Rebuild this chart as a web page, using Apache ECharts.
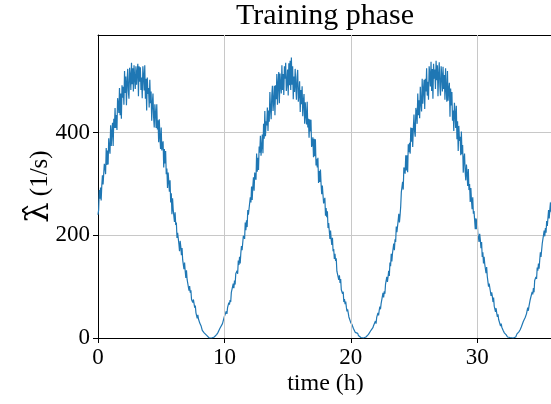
<!DOCTYPE html>
<html>
<head>
<meta charset="utf-8">
<script src="https://cdn.jsdelivr.net/npm/echarts@6/dist/echarts.min.js"></script>
<style>
html,body{margin:0;padding:0;background:#fff;}
#chart{width:551px;height:404px;}
</style>
</head>
<body>
<div id="chart"></div>
<script>
// Sampling step of the time axis (hours)
const timeStepH = 0.05;

// Estimated rate (1/s), one array per 12 h cycle
const rateCycle1 = [
  240, 249, 288, 271, 293, 268, 297, 317, 299, 297,
  339, 333, 319, 370, 337, 365, 338, 389, 368, 359,
  414, 374, 401, 419, 374, 427, 409, 448, 409, 434,
  405, 467, 456, 438, 487, 434, 476, 427, 492, 468,
  489, 454, 520, 477, 509, 453, 497, 524, 481, 466,
  526, 511, 483, 536, 494, 525, 480, 531, 506, 485,
  529, 493, 518, 534, 471, 529, 499, 527, 483, 507,
  467, 529, 511, 482, 531, 466, 505, 443, 507, 475,
  487, 449, 503, 457, 480, 423, 457, 476, 430, 410,
  455, 438, 409, 455, 406, 424, 381, 426, 391, 368,
  410, 365, 377, 383, 332, 368, 340, 364, 319, 330,
  292, 322, 305, 285, 307, 264, 282, 241, 272, 250,
  248, 226, 245, 220, 225, 195, 205, 208, 183, 169,
  189, 178, 161, 175, 152, 154, 134, 147, 130, 117,
  132, 114, 114, 113, 92, 101, 88, 93, 75, 76,
  69, 75, 67, 59, 63, 49, 52, 38, 45, 37,
  35, 29, 32, 24, 24, 15, 17, 18, 10, 7,
  10, 7, 5, 6, 3, 3, 0, 2, 0, 0,
  0, 1, 0, 1, 2, 1, 4, 3, 7, 6,
  11, 11, 10, 19, 16, 21, 19, 28, 28, 29,
  42, 39, 45, 52, 47, 59, 59, 69, 65, 74,
  70, 89, 90, 89, 106, 97, 112, 104, 125, 124,
  131, 125, 151, 142, 158, 145, 165, 179, 171, 173,
  199, 198, 193, 225, 210, 229, 216, 249, 240, 238
];
const rateCycle2 = [
  241, 274, 264, 295, 269, 295, 313, 287, 322, 316,
  308, 359, 324, 351, 327, 373, 361, 394, 355, 373,
  396, 360, 417, 388, 442, 393, 422, 414, 449, 403,
  443, 421, 479, 445, 426, 472, 491, 442, 461, 491,
  434, 492, 465, 514, 454, 495, 518, 457, 515, 492,
  476, 531, 483, 514, 473, 529, 505, 536, 481, 497,
  523, 472, 535, 492, 540, 483, 546, 493, 529, 465,
  509, 479, 524, 491, 464, 508, 522, 460, 474, 500,
  440, 483, 455, 490, 432, 461, 475, 417, 459, 433,
  416, 460, 410, 427, 390, 426, 402, 425, 372, 378,
  391, 352, 388, 354, 387, 336, 349, 332, 351, 302,
  325, 304, 328, 300, 280, 297, 300, 262, 264, 273,
  238, 253, 235, 247, 214, 224, 225, 193, 209, 192,
  181, 195, 169, 173, 154, 164, 150, 155, 130, 129,
  130, 113, 122, 107, 115, 94, 95, 86, 90, 70,
  76, 66, 71, 60, 52, 56, 55, 41, 40, 42,
  30, 32, 26, 28, 19, 19, 19, 11, 14, 9,
  8, 9, 5, 5, 2, 3, 1, 2, 0, 1,
  0, 0, 1, 0, 2, 2, 4, 3, 7, 6,
  10, 9, 15, 15, 15, 20, 24, 23, 27, 33,
  28, 40, 39, 49, 44, 54, 61, 56, 67, 69,
  69, 88, 79, 91, 86, 105, 104, 119, 109, 119,
  131, 121, 147, 140, 164, 149, 165, 166, 184, 171,
  192, 187, 217, 206, 203, 229, 242, 225, 239, 256
];
const rateCycle3 = [
  284, 283, 304, 289, 332, 328, 320, 356, 326, 356,
  323, 377, 362, 380, 359, 410, 382, 409, 372, 408,
  435, 402, 392, 448, 438, 417, 476, 434, 463, 428,
  489, 457, 441, 505, 456, 484, 503, 446, 505, 480,
  525, 472, 499, 464, 529, 514, 490, 538, 481, 524,
  466, 534, 505, 523, 485, 540, 502, 531, 471, 513,
  537, 490, 472, 529, 511, 480, 528, 485, 512, 464,
  525, 484, 460, 520, 462, 484, 497, 431, 486, 453,
  479, 423, 443, 403, 458, 437, 409, 452, 387, 422,
  364, 413, 384, 392, 356, 402, 358, 376, 322, 350,
  359, 324, 307, 338, 320, 296, 329, 288, 300, 265,
  292, 268, 251, 274, 242, 247, 248, 212, 233, 212,
  231, 204, 207, 187, 203, 191, 175, 187, 158, 167,
  145, 158, 144, 143, 126, 138, 120, 122, 100, 106,
  106, 90, 82, 89, 81, 70, 79, 62, 65, 51,
  58, 48, 41, 46, 36, 35, 35, 23, 28, 21,
  21, 15, 15, 10, 12, 10, 6, 9, 2, 4,
  2, 2, 1, 0, 1, 0, 0, 0, 1, 1,
  3, 2, 5, 8, 6, 10, 12, 11, 16, 19,
  22, 22, 23, 32, 29, 35, 40, 37, 47, 48,
  59, 53, 62, 59, 75, 77, 77, 90, 85, 97,
  89, 112, 110, 119, 115, 137, 131, 145, 135, 152,
  167, 158, 159, 184, 186, 182, 209, 198, 214, 205,
  228, 218, 217, 249, 233, 250, 264, 245, 275, 271,
  268
];

const xTicks = [0, 10, 20, 30];
const yTicks = [0, 200, 400];
const titleText = 'Training phase';
const xName = 'time (h)';

const rates = rateCycle1.concat(rateCycle2, rateCycle3);
const seriesData = rates.map((v, i) => [+(i * timeStepH).toFixed(2), v]);

const chart = echarts.init(document.getElementById('chart'), null, {renderer: 'canvas'});
const serif = '"Liberation Serif", "Times New Roman", serif';
const gridGray = '#c8c8c8';

chart.setOption({
  animation: false,
  backgroundColor: '#fff',
  title: {
    text: titleText,
    left: 325,
    top: 1,
    textAlign: 'center',
    padding: 0,
    textStyle: {fontFamily: serif, fontSize: 30, fontWeight: 'normal', color: '#000'}
  },
  grid: {
    left: 98, top: 35, width: 455, height: 303,
    show: false, outerBoundsMode: 'none', containLabel: false
  },
  xAxis: [{
    type: 'value', min: 0, max: 36, interval: 10,
    name: xName, nameLocation: 'middle', nameGap: 34, nameMoveOverlap: false,
    nameTextStyle: {fontFamily: serif, fontSize: 24, color: '#000'},
    axisLine: {show: true, onZero: false, lineStyle: {color: '#000', width: 1}},
    axisTick: {show: true, inside: false, length: 5, lineStyle: {color: '#000'}},
    axisLabel: {
      margin: 8, fontFamily: serif, fontSize: 23, color: '#000',
      showMaxLabel: false,
      formatter: v => (xTicks.indexOf(v) >= 0 ? String(v) : '')
    },
    splitLine: {show: false}
  }, {
    type: 'value', min: 0, max: 36, position: 'top',
    axisLine: {show: true, onZero: false, lineStyle: {color: '#000', width: 1}},
    axisTick: {show: false}, axisLabel: {show: false}, splitLine: {show: false}
  }],
  yAxis: {
    type: 'value', min: 0, max: 590, interval: 200,
    name: '{lam|λ̂} {u|(1/s)}', nameLocation: 'middle', nameGap: 42, nameRotate: 90,
    nameMoveOverlap: false,
    nameTextStyle: {
      fontFamily: serif, fontSize: 25, color: '#000',
      rich: {
        lam: {fontFamily: '"DejaVu Serif", serif', fontSize: 32, color: '#000'},
        u: {fontFamily: serif, fontSize: 25, color: '#000'}
      }
    },
    axisLine: {show: true, onZero: false, lineStyle: {color: '#000', width: 1}},
    axisTick: {show: true, inside: false, length: 5, lineStyle: {color: '#000'}},
    axisLabel: {
      margin: 8, fontFamily: serif, fontSize: 23, color: '#000',
      showMaxLabel: false,
      formatter: v => (yTicks.indexOf(v) >= 0 ? String(v) : '')
    },
    splitLine: {show: true, showMaxLine: false, lineStyle: {color: gridGray, width: 1}}
  },
  series: [{
    // vertical grid lines at the labelled x ticks only
    type: 'line',
    data: [],
    silent: true,
    z: 1,
    markLine: {
      silent: true,
      symbol: 'none',
      label: {show: false},
      lineStyle: {color: gridGray, width: 1, type: 'solid'},
      data: xTicks.filter(t => t > 0).map(t => ({xAxis: t}))
    }
  }, {
    type: 'line',
    data: seriesData,
    showSymbol: false,
    symbol: 'none',
    lineStyle: {color: '#1f77b4', width: 1.2},
    itemStyle: {color: '#1f77b4'},
    z: 3
  }]
});
</script>
</body>
</html>
